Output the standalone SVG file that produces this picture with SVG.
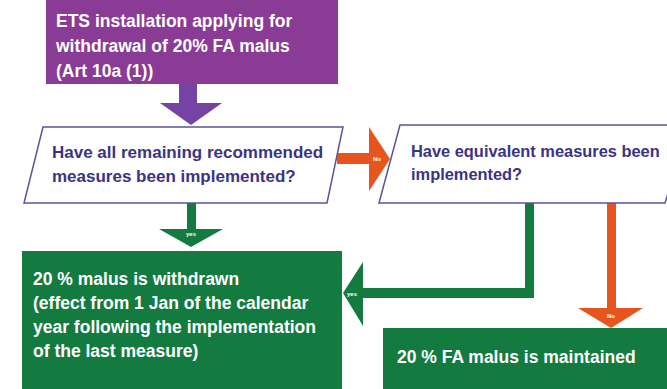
<svg xmlns="http://www.w3.org/2000/svg" width="667" height="389" viewBox="0 0 667 389">
<style>
.t{font-family:"Liberation Sans",Arial,sans-serif;font-weight:bold}
.w{fill:#ffffff;font-size:17.5px}
.q{fill:#3b3482;font-size:17px}
.para{fill:#ffffff;stroke:#5d5296;stroke-width:1.5}
.lbl{font-family:"Liberation Sans",Arial,sans-serif;font-weight:bold;font-size:6px;fill:#ffffff;text-anchor:middle}
</style>
<rect width="667" height="389" fill="#ffffff"/>
<g id="connectors">
  <g id="c-start-q1" fill="#7443a3">
    <rect x="179" y="83" width="18" height="21"/>
    <polygon points="160,103 222,103 191,125"/>
  </g>
  <g id="c-q1-q2-no" fill="#e8541e">
    <rect x="337" y="153" width="33" height="11"/>
    <polygon points="369,127 390,159 369,191"/>
    <text class="lbl" x="377" y="161">No</text>
  </g>
  <g id="c-q1-withdrawn-yes" fill="#137b3f">
    <rect x="187" y="203" width="9" height="27"/>
    <polygon points="159,229 223,229 191,247"/>
    <text class="lbl" x="191" y="236">yes</text>
  </g>
  <g id="c-q2-withdrawn-yes" fill="#137b3f">
    <polygon points="525,203 534,203 534,298 362,298 362,288 525,288"/>
    <polygon points="363,262 343,293 363,326"/>
    <text class="lbl" x="352" y="296">yes</text>
  </g>
  <g id="c-q2-maintained-no" fill="#e8541e">
    <rect x="607" y="203" width="9" height="106"/>
    <polygon points="578,308 643,308 611,328"/>
    <text class="lbl" x="611" y="318">No</text>
  </g>
</g>
<g id="start">
  <rect x="46" y="0" width="292" height="84" fill="#893b96"/>
  <text class="t w" x="56" y="27">ETS installation applying for</text>
  <text class="t w" x="56" y="52">withdrawal of 20% FA malus</text>
  <text class="t w" x="56" y="77">(Art 10a (1))</text>
</g>
<g id="q1">
  <polygon class="para" points="43,127 343,127 327,203 24,203"/>
  <text class="t q" x="52" y="158">Have all remaining recommended</text>
  <text class="t q" x="52" y="182">measures been implemented?</text>
</g>
<g id="q2">
  <polygon class="para" points="400,125 690,125 665,203 379,203"/>
  <text class="t q" x="411" y="157" style="font-size:16.4px">Have equivalent measures been</text>
  <text class="t q" x="411" y="180" style="font-size:16.4px">implemented?</text>
</g>
<g id="withdrawn">
  <rect x="22" y="251" width="320" height="138" fill="#137b3f"/>
  <text class="t w" x="33" y="285">20 % malus is withdrawn</text>
  <text class="t w" x="33" y="309">(effect from 1 Jan of the calendar</text>
  <text class="t w" x="33" y="333">year following the implementation</text>
  <text class="t w" x="33" y="357">of the last measure)</text>
</g>
<g id="maintained">
  <rect x="383" y="328" width="284" height="61" fill="#137b3f"/>
  <text class="t w" x="397" y="363">20 % FA malus is maintained</text>
</g>
</svg>
